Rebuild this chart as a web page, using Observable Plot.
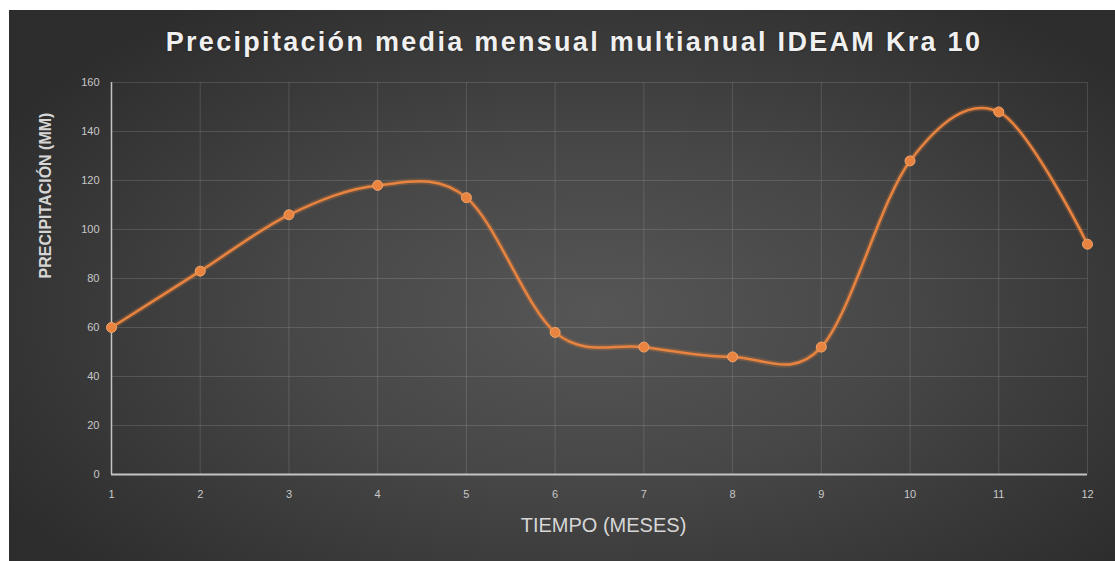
<!DOCTYPE html>
<html>
<head>
<meta charset="utf-8">
<script src="https://cdn.jsdelivr.net/npm/d3@7"></script>
<script src="https://cdn.jsdelivr.net/npm/@observablehq/plot@0.6"></script>
<style>
  html, body { margin: 0; padding: 0; background: #ffffff; width: 1115px; height: 561px; overflow: hidden; }
  #panel {
    position: absolute; left: 9px; top: 10px; width: 1106px; height: 551px;
    background: radial-gradient(ellipse 62% 68% at 53% 55%, #565656 0%, #474747 45%, #2d2d2d 100%);
    font-family: "Liberation Sans", Arial, sans-serif;
  }
  #title {
    position: absolute; left: 24px; right: 0; top: 17px; text-align: center;
    font-size: 27px; font-weight: bold; color: #f0f0f0; letter-spacing: 2.3px;
    text-shadow: 0 0 2px rgba(0,0,0,0.5);
  }
  #chart { position: absolute; left: 0; top: 55px; }
</style>
</head>
<body>
<div id="panel">
  <div id="title">Precipitación media mensual multianual IDEAM Kra 10</div>
  <div id="chart"></div>
</div>
<script>
const months = [1, 2, 3, 4, 5, 6, 7, 8, 9, 10, 11, 12];
const precipitation = [60, 83, 106, 118, 113, 58, 52, 48, 52, 128, 148, 94];
const yTicks = [0, 20, 40, 60, 80, 100, 120, 140, 160];
const xTitle = "TIEMPO (MESES)";
const yTitle = "PRECIPITACIÓN (MM)";

const data = months.map((m, i) => ({month: m, value: precipitation[i]}));

const plot = Plot.plot({
  width: 1106,
  height: 496,
  marginLeft: 102,
  marginRight: 28,
  marginTop: 17,
  marginBottom: 87,
  style: {background: "transparent", color: "#c8c8c8", fontFamily: "'Liberation Sans', Arial, sans-serif", overflow: "visible"},
  x: {domain: [1, 12]},
  y: {domain: [0, 160]},
  marks: [
    Plot.gridY(yTicks, {stroke: "#ffffff", strokeOpacity: 0.13, strokeWidth: 1}),
    Plot.gridX(months, {stroke: "#ffffff", strokeOpacity: 0.13, strokeWidth: 1}),
    Plot.axisY(yTicks, {tickSize: 0, tickPadding: 12, fontSize: 11, label: null}),
    Plot.axisX(months, {tickSize: 0, tickPadding: 16, fontSize: 11, label: null}),
    Plot.ruleX([1], {stroke: "#c4c4c4", strokeWidth: 1.5}),
    Plot.ruleY([0], {stroke: "#c4c4c4", strokeWidth: 2}),
    Plot.line(data, {x: "month", y: "value", curve: "cardinal", tension: 0, stroke: "#e07a36", strokeWidth: 6, strokeOpacity: 0.25}),
    Plot.line(data, {x: "month", y: "value", curve: "cardinal", tension: 0, stroke: "#e8843f", strokeWidth: 2.5}),
    Plot.dot(data, {x: "month", y: "value", r: 5, fill: "#e8843f", stroke: "#f2a46a", strokeWidth: 1}),
    Plot.text([xTitle], {frameAnchor: "bottom", dy: 57, dx: 4, fontSize: 20, letterSpacing: 0.6, fill: "#d6d6d6"}),
    Plot.text([yTitle], {frameAnchor: "left", dx: -66, rotate: -90, fontSize: 16, fontWeight: "bold", fill: "#d6d6d6"})
  ]
});
document.getElementById("chart").appendChild(plot);
</script>
</body>
</html>
